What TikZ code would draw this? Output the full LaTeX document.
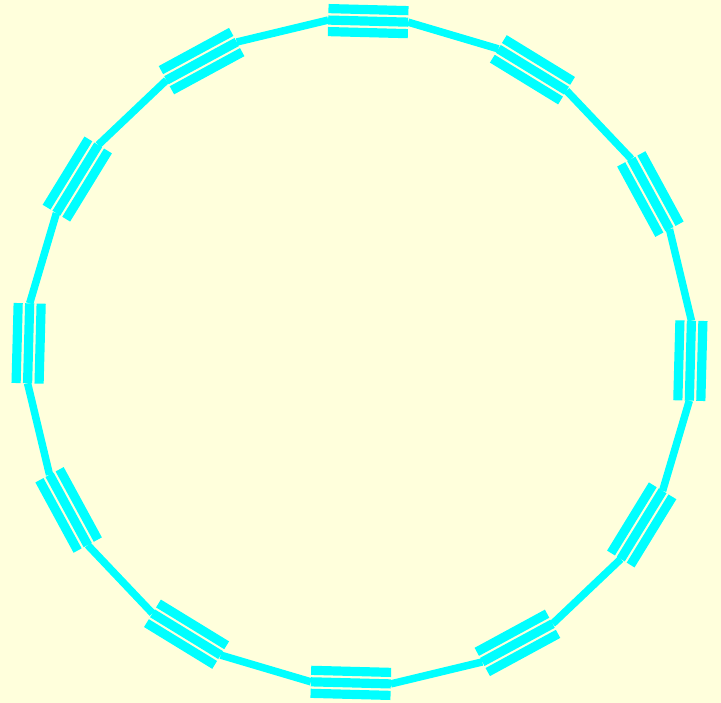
\documentclass[tikz,border=0pt]{standalone}
\usepackage{tikz}
\definecolor{ringcyan}{HTML}{00FFFF}
\definecolor{paper}{HTML}{FFFFDC}
\tikzset{
  ringbar/.style={fill=ringcyan},
  ringlink/.style={draw=ringcyan,line width=7.5pt}
}
\begin{document}
\begin{tikzpicture}[x=1pt,y=1pt]
\fill[paper] (0,0) rectangle (721,703);
\coordinate (C) at (359.5,351);
% ends of the middle bars
\foreach \k in {0,...,11}{
  \begin{scope}[shift={(C)},rotate={88.5-30*\k}]
    \coordinate (b\k-s) at (331,40);
    \coordinate (b\k-e) at (331,-40);
  \end{scope}
}
% links between the bars
\foreach \k in {0,...,11}{
  \pgfmathtruncatemacro{\n}{mod(\k+1,12)}
  \draw[ringlink] (b\k-e) -- (b\n-s);
}
% triple bars
\foreach \k in {0,...,11}{
  \begin{scope}[shift={(C)},rotate={88.5-30*\k}]
    \foreach \r in {319.5,331,342.5}
      \fill[ringbar] (\r-4.6,-40) rectangle (\r+4.6,40);
  \end{scope}
}
\end{tikzpicture}
\end{document}
